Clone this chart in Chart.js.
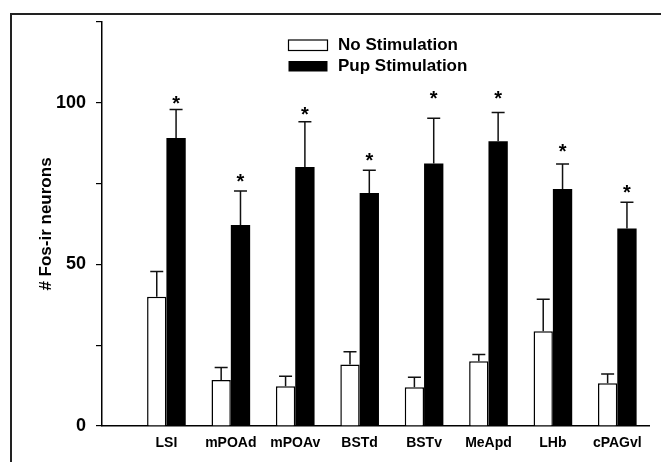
<!DOCTYPE html>
<html>
<head>
<meta charset="utf-8">
<script src="https://cdn.jsdelivr.net/npm/chart.js@4.4.1/dist/chart.umd.min.js"></script>
<style>
  html, body { margin: 0; padding: 0; background: #fff; }
  #wrap { position: relative; width: 661px; height: 462px; }
</style>
</head>
<body>
<div id="wrap"><canvas id="myChart"></canvas></div>
<script>
// values (mean + SEM, only the upper whisker is drawn)
const regions = ["LSI", "mPOAd", "mPOAv", "BSTd", "BSTv", "MeApd", "LHb", "cPAGvl"];
const noStim = [40, 14.2, 12.3, 19, 12, 20, 29.3, 13.2];
const noStimErr = [7.8, 3.9, 3.1, 4, 3.1, 2.1, 9.9, 2.9];
const pupStim = [89.1, 62.2, 80.1, 72.1, 81.2, 88.1, 73.3, 61.1];
const pupStimErr = [8.8, 10.5, 14, 7, 14, 8.9, 7.8, 8.1];
// height (in y units) of the significance asterisks
const starLevel = [101.4, 77.1, 98, 83.8, 103, 103, 86.4, 73.8];
const yLabels = [0, 50, 100];
const seriesNames = ["No Stimulation", "Pup Stimulation"];

const FONT = "'Liberation Sans', Arial, Helvetica, sans-serif";
const ctx = document.getElementById("myChart");

const toPoints = (arr) => arr.map((v, i) => ({ x: i + 1, y: v }));

// top and left rule around the figure
const framePlugin = {
  id: "frame",
  beforeDraw(chart) {
    const c = chart.ctx;
    c.save();
    c.strokeStyle = "#222";
    c.lineWidth = 2;
    c.beginPath();
    c.moveTo(11, chart.height);
    c.lineTo(11, 14);
    c.lineTo(chart.width, 14);
    c.stroke();
    c.restore();
  },
};

// upper error whiskers and asterisks
const errorPlugin = {
  id: "errors",
  afterDatasetsDraw(chart) {
    const c = chart.ctx;
    const yScale = chart.scales.y;
    c.save();
    c.strokeStyle = "#111";
    c.lineWidth = 1.5;
    chart.data.datasets.forEach((ds, d) => {
      const meta = chart.getDatasetMeta(d);
      meta.data.forEach((bar, i) => {
        const top = yScale.getPixelForValue(ds.data[i].y + ds.errors[i]);
        c.beginPath();
        c.moveTo(bar.x, bar.y);
        c.lineTo(bar.x, top);
        c.moveTo(bar.x - 6.5, top);
        c.lineTo(bar.x + 6.5, top);
        c.stroke();
      });
    });
    const pupMeta = chart.getDatasetMeta(1);
    c.fillStyle = "#000";
    c.font = "bold 20px " + FONT;
    c.textAlign = "center";
    c.textBaseline = "alphabetic";
    pupMeta.data.forEach((bar, i) => {
      c.fillText("*", bar.x, yScale.getPixelForValue(starLevel[i]) + 11.5);
    });
    c.restore();
  },
};

// legend sitting inside the plot, stacked
const legendPlugin = {
  id: "insideLegend",
  afterDraw(chart) {
    const c = chart.ctx;
    c.save();
    c.font = "bold 17px " + FONT;
    c.textBaseline = "middle";
    c.textAlign = "left";
    chart.data.datasets.forEach((ds, d) => {
      const top = 40 + d * 21;
      c.fillStyle = ds.backgroundColor;
      c.fillRect(288.5, top, 39, 10.5);
      if (ds.borderWidth) {
        c.strokeStyle = "#000";
        c.lineWidth = 1.2;
        c.strokeRect(288.5, top, 39, 10.5);
      }
      c.fillStyle = "#000";
      c.fillText(seriesNames[d], 338, top + 5.5);
    });
    c.restore();
  },
};

new Chart(ctx, {
  type: "bar",
  data: {
    datasets: [
      {
        label: seriesNames[0],
        data: toPoints(noStim),
        errors: noStimErr,
        backgroundColor: "#ffffff",
        borderColor: "#000000",
        borderWidth: { top: 1.5, left: 1.5, right: 1.5, bottom: 0 },
        categoryPercentage: 0.6,
        barPercentage: 1,
      },
      {
        label: seriesNames[1],
        data: toPoints(pupStim),
        errors: pupStimErr,
        backgroundColor: "#000000",
        borderWidth: 0,
        categoryPercentage: 0.6,
        barPercentage: 1,
      },
    ],
  },
  options: {
    responsive: true,
    maintainAspectRatio: false,
    animation: false,
    layout: { padding: { top: 22, right: 11.5, bottom: 0, left: 0 } },
    plugins: {
      legend: { display: false },
      tooltip: { enabled: false },
    },
    scales: {
      x: {
        type: "linear",
        min: 0,
        max: 8.5,
        offset: false,
        grid: { display: false, drawTicks: false, offset: false },
        border: { display: true, color: "#000", width: 1.5 },
        afterBuildTicks: (s) => {
          s.ticks = regions.map((_, i) => ({ value: i + 1 }));
        },
        ticks: {
          autoSkip: false,
          maxRotation: 0,
          padding: 9,
          color: "#000",
          font: { family: FONT, size: 14, weight: "bold" },
          callback: (v) => regions[v - 1] || "",
        },
        afterFit: (s) => { s.height = 36; },
      },
      y: {
        min: 0,
        max: 125,
        grid: {
          display: true,
          drawOnChartArea: false,
          drawTicks: true,
          tickLength: 6,
          color: "#000",
          lineWidth: 1.2,
        },
        border: { display: true, color: "#000", width: 1.5 },
        ticks: {
          stepSize: 25,
          padding: 10,
          color: "#000",
          font: { family: FONT, size: 18, weight: "bold" },
          callback: (v) => (yLabels.includes(v) ? v : ""),
        },
        title: {
          display: true,
          text: "# Fos-ir neurons",
          color: "#000",
          font: { family: FONT, size: 17, weight: "bold" },
          padding: { top: 36, bottom: 0 },
        },
        afterFit: (s) => { s.width = 102; },
      },
    },
  },
  plugins: [framePlugin, errorPlugin, legendPlugin],
});
</script>
</body>
</html>
